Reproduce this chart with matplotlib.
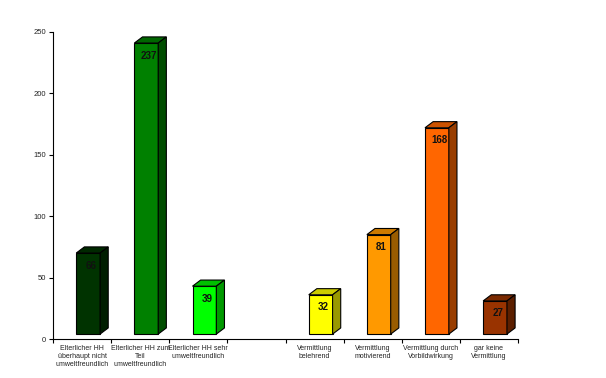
import matplotlib.pyplot as plt
from matplotlib.patches import Polygon

plt.rcParams['font.family'] = ['Liberation Sans', 'DejaVu Sans']

# Kategorien (leerer Platz an Position 4)
categories = [
    "Elterlicher HH\nüberhaupt nicht\numweltfreundlich",
    "Elterlicher HH zum\nTeil\numweltfreundlich",
    "Elterlicher HH sehr\numweltfreundlich",
    "",
    "Vermittlung\nbelehrend",
    "Vermittlung\nmotivierend",
    "Vermittlung durch\nVorbildwirkung",
    "gar keine\nVermittlung",
]
values = [66, 237, 39, None, 32, 81, 168, 27]
front_colors = ['#003300', '#008000', '#00FF00', None, '#FFFF00', '#FF9900', '#FF6600', '#993300']
top_colors = ['#002800', '#006600', '#00C000', None, '#CCCC00', '#CC7A00', '#CC5200', '#7A2900']
side_colors = ['#001E00', '#004D00', '#009900', None, '#999900', '#995C00', '#993D00', '#5C1F00']
yticks = [0, 50, 100, 150, 200, 250]

fig = plt.figure(figsize=(6.06, 3.78), dpi=100)
ax = fig.add_axes([53 / 606, 39 / 378, 465 / 606, 307 / 378])

base = 4.0      # 3D-Versatz der Grundflaeche
dx = 0.14       # Tiefe in x (Slot-Einheiten)
dy = 5.0        # Tiefe in y (Dateneinheiten)
x_off = 0.40
bw = 0.41

for i, v in enumerate(values):
    if v is None:
        continue
    x0 = i + x_off
    x1 = x0 + bw
    top = base + v
    ax.bar(x0, v, width=bw, bottom=base, align='edge', color=front_colors[i],
           edgecolor='black', linewidth=0.8, zorder=3)
    ax.add_patch(Polygon([(x0, top), (x1, top), (x1 + dx, top + dy), (x0 + dx, top + dy)],
                         closed=True, facecolor=top_colors[i], edgecolor='black',
                         linewidth=0.8, zorder=3, clip_on=False))
    ax.add_patch(Polygon([(x1, base), (x1 + dx, base + dy), (x1 + dx, top + dy), (x1, top)],
                         closed=True, facecolor=side_colors[i], edgecolor='black',
                         linewidth=0.8, zorder=3, clip_on=False))
    ax.annotate(str(v), xy=(x0 + bw / 2, top), xytext=(2, -9), textcoords='offset points',
                ha='center', va='center', fontsize=7, fontweight='bold', color='#111111',
                zorder=4)

ax.set_xlim(0, 8)
ax.set_ylim(0, 250)
ax.set_yticks(yticks)
ax.set_yticklabels([str(t) for t in yticks])
ax.set_xticks(range(9))
ax.set_xticklabels([])
ax.set_xticks([i + 0.5 for i in range(8)], minor=True)
ax.set_xticklabels(categories, minor=True, fontsize=5, color='#222222', linespacing=1.25)
ax.tick_params(axis='x', which='major', length=3, width=0.8, direction='out')
ax.tick_params(axis='x', which='minor', length=0, pad=4)
ax.tick_params(axis='y', length=3, width=0.8, labelsize=5.5, labelcolor='#222222', pad=2)

for s in ['top', 'right']:
    ax.spines[s].set_visible(False)
for s in ['left', 'bottom']:
    ax.spines[s].set_linewidth(0.8)

fig.savefig('out.png', dpi=100)
